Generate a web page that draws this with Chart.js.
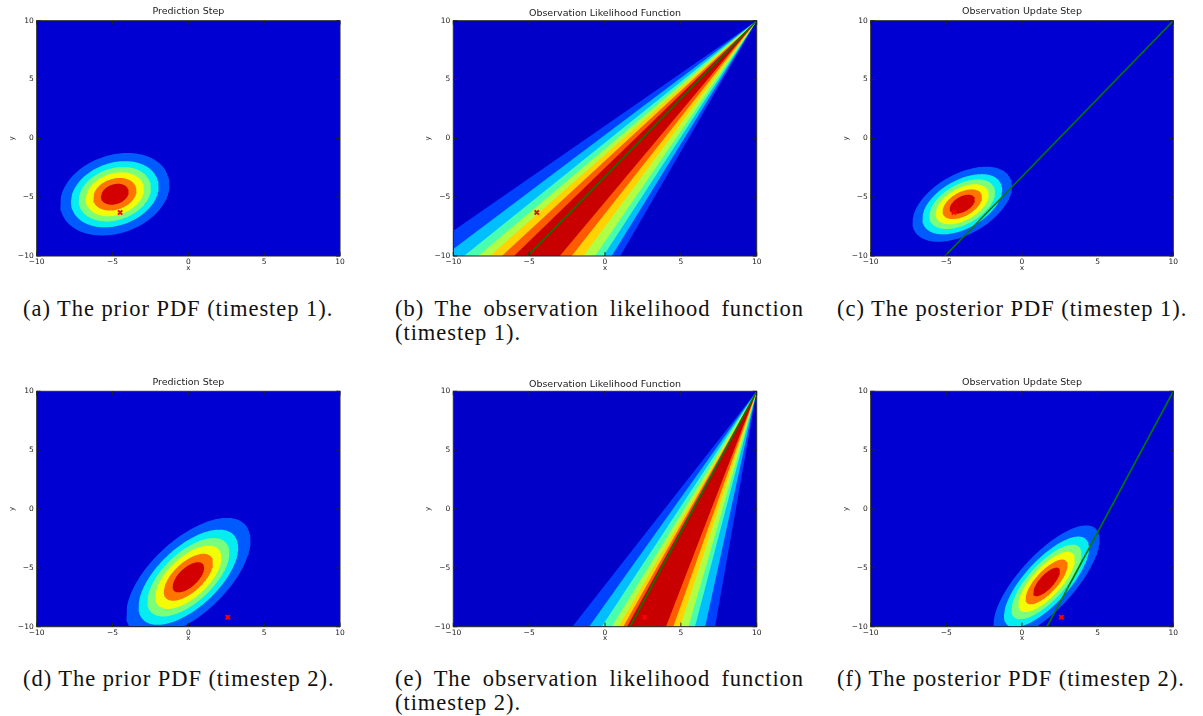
<!DOCTYPE html>
<html>
<head>
<meta charset="utf-8">
<script src="https://cdn.jsdelivr.net/npm/chart.js@4.4.0/dist/chart.umd.min.js"></script>
<style>
  body { margin: 0; background: #fff; width: 1203px; height: 716px; position: relative; overflow: hidden; }
  canvas { position: absolute; }
  .cap { position: absolute; font-family: "Liberation Serif", serif; font-size: 22.5px; line-height: 24px;
         color: #111; white-space: nowrap; letter-spacing: 0.95px; }
  .cap.just { white-space: normal; text-align: justify; text-align-last: left; }
</style>
</head>
<body>
<canvas id="pa" width="372" height="275" style="left:0px;top:0px"></canvas>
<canvas id="pb" width="372" height="275" style="left:410px;top:0px"></canvas>
<canvas id="pc" width="372" height="275" style="left:830px;top:0px"></canvas>
<canvas id="pd" width="372" height="275" style="left:0px;top:370px"></canvas>
<canvas id="pe" width="372" height="275" style="left:410px;top:370px"></canvas>
<canvas id="pf" width="372" height="275" style="left:830px;top:370px"></canvas>

<div class="cap" style="left:23px;top:297px">(a) The prior PDF (timestep 1).</div>
<div class="cap just" style="left:395px;top:297px;width:409px">(b) The observation likelihood function (timestep 1).</div>
<div class="cap" style="left:837px;top:297px">(c) The posterior PDF (timestep 1).</div>
<div class="cap" style="left:23px;top:667px">(d) The prior PDF (timestep 2).</div>
<div class="cap just" style="left:395px;top:667px;width:409px">(e) The observation likelihood function (timestep 2).</div>
<div class="cap" style="left:837px;top:667px">(f) The posterior PDF (timestep 2).</div>

<script>
// axes
const axisMin = -10;
const axisMax = 10;
const tickValues = [-10, -5, 0, 5, 10];

// jet colours of the filled contour bands, lowest level first
const pdfColors = ['#0000d2', '#005bff', '#06edf1', '#7bff7b', '#f1fc06', '#ff7500', '#d20000'];
const likeColors = ['#0000c8', '#0040ff', '#00bfff', '#47ffaf', '#afff47', '#ffd200', '#ff5c00', '#c80000'];

// contour radii of the pdf bands (in standard deviations), outermost first
const pdfRadii = [1.97, 1.58, 1.30, 1.05, 0.78, 0.50];

// gaussian pdfs: mean x, mean y, sd x, sd y, correlation
const prior1 = [-4.85, -4.75, 1.83, 1.78, 0.23];
const posterior1 = [-3.95, -5.6, 1.67, 1.62, 0.48];
const prior2 = [0.0, -5.8, 2.08, 2.56, 0.62];
const posterior2 = [1.62, -6.2, 1.78, 2.44, 0.75];

// likelihood bands fan out from the sensor; edges given where they cross y = -10
const sensor = [10, 10];
const likeLeft1 = [-12.4, -10.6, -9.3, -8.37, -7.6, -6.8, -6.0];
const likeRight1 = [1.0, 0.44, -0.11, -0.66, -1.43, -2.2, -2.98];
const likeLeft2 = [-2.15, -1.05, -0.22, 0.44, 0.88, 1.2, 1.45];
const likeRight2 = [7.25, 6.6, 5.93, 5.5, 4.95, 4.5, 4.02];

// measured bearing line from the sensor, x where it reaches y = -10
const bearing1 = -5.1;
const bearing2 = 1.65;

// true position (red cross)
const truth1 = [-4.5, -6.3];
const truth2 = [2.6, -9.2];

const titles = ['Prediction Step', 'Observation Likelihood Function', 'Observation Update Step'];

// panel placement inside each canvas
const cols = [
    { left: 0, areaL: 36.7, areaR: 340 },
    { left: 410, areaL: 453.3, areaR: 756.7 },
    { left: 830, areaL: 870.7, areaR: 1173.3 }
];
const rows = [
    { top: 0, areaT: 20.7, areaB: 256 },
    { top: 370, areaT: 391.3, areaB: 626.7 }
];
const CW = 372, CH = 275, YBOX = 29.2;

function fmt(v) {
    return String(v).replace('-', '\u2212');
}

function ellipse(g, r) {
    const [mx, my, sx, sy, rho] = g;
    const pts = [];
    for (let i = 0; i <= 160; i++) {
        const t = i / 160 * 2 * Math.PI;
        pts.push({
            x: mx + r * sx * Math.cos(t),
            y: my + r * sy * (rho * Math.cos(t) + Math.sqrt(1 - rho * rho) * Math.sin(t))
        });
    }
    return pts;
}

function area(color, data) {
    return { data, backgroundColor: color, borderWidth: 0, pointRadius: 0, fill: 'shape', tension: 0 };
}

function background(color) {
    return area(color, [
        { x: axisMin, y: axisMin }, { x: axisMax, y: axisMin },
        { x: axisMax, y: axisMax }, { x: axisMin, y: axisMax }, { x: axisMin, y: axisMin }
    ]);
}

function bearingLine(xEnd) {
    return {
        data: [{ x: sensor[0], y: sensor[1] }, { x: xEnd, y: axisMin }],
        borderColor: '#007a00', borderWidth: 1.6, pointRadius: 0, fill: false
    };
}

function marker(p) {
    return {
        data: [{ x: p[0], y: p[1] }], showLine: false,
        pointStyle: 'crossRot', pointRadius: 3, borderWidth: 2,
        borderColor: '#ff0000', backgroundColor: '#ff0000', clip: false
    };
}

function pdfSets(g) {
    const sets = [background(pdfColors[0])];
    pdfRadii.forEach((r, i) => sets.push(area(pdfColors[i + 1], ellipse(g, r))));
    return sets;
}

function likeSets(left, right) {
    const sets = [background(likeColors[0])];
    left.forEach((xl, i) => {
        sets.push(area(likeColors[i + 1], [
            { x: sensor[0], y: sensor[1] }, { x: xl, y: axisMin },
            { x: right[i], y: axisMin }, { x: sensor[0], y: sensor[1] }
        ]));
    });
    return sets;
}

const framePlugin = {
    id: 'frame',
    afterDatasetsDraw(chart) {
        const { ctx, chartArea: a, scales } = chart;
        ctx.save();
        ctx.strokeStyle = '#222';
        ctx.lineWidth = 1;
        ctx.strokeRect(a.left, a.top, a.right - a.left, a.bottom - a.top);
        ctx.beginPath();
        tickValues.forEach(v => {
            const px = scales.x.getPixelForValue(v);
            const py = scales.y.getPixelForValue(v);
            ctx.moveTo(px, a.bottom); ctx.lineTo(px, a.bottom - 4);
            ctx.moveTo(px, a.top); ctx.lineTo(px, a.top + 4);
            ctx.moveTo(a.left, py); ctx.lineTo(a.left + 4, py);
            ctx.moveTo(a.right, py); ctx.lineTo(a.right - 4, py);
        });
        ctx.stroke();
        ctx.restore();
    }
};

const tickFont = { family: 'DejaVu Sans', size: 7.5 };
const labelFont = { family: 'DejaVu Sans', size: 7 };

function makeChart(id, col, row, titleCenter, title, datasets) {
    const c = cols[col], r = rows[row];
    const n = datasets.length;
    datasets.forEach((d, i) => { d.type = 'line'; d.order = n - i; });
    const titleTop = titleCenter - 5.7;
    const titleBottom = (r.areaT - r.top) - 11.4 - titleTop;
    new Chart(document.getElementById(id), {
        type: 'line',
        data: { datasets },
        plugins: [framePlugin],
        options: {
            responsive: false,
            animation: false,
            events: [],
            layout: {
                padding: {
                    left: c.areaL - c.left - YBOX,
                    right: c.left + CW - c.areaR,
                    top: 0,
                    bottom: 0
                }
            },
            plugins: {
                legend: { display: false },
                tooltip: { enabled: false },
                title: {
                    display: true, text: title, fullSize: false, color: '#222',
                    font: { family: 'DejaVu Sans', size: 9.5, weight: 'normal' },
                    padding: { top: titleTop, bottom: titleBottom }
                }
            },
            scales: {
                x: {
                    type: 'linear', min: axisMin, max: axisMax,
                    afterBuildTicks: s => { s.ticks = tickValues.map(v => ({ value: v })); },
                    afterFit: s => { s.height = r.top + CH - r.areaB; },
                    grid: { display: false, drawTicks: false }, border: { display: false },
                    ticks: { font: tickFont, color: '#222', padding: 1.5, maxRotation: 0, autoSkip: false, callback: fmt },
                    title: { display: true, text: 'x', font: labelFont, color: '#222', padding: { top: 2.5, bottom: 2.5 } }
                },
                y: {
                    type: 'linear', min: axisMin, max: axisMax,
                    afterBuildTicks: s => { s.ticks = tickValues.map(v => ({ value: v })); },
                    afterFit: s => { s.width = YBOX; },
                    grid: { display: false, drawTicks: false }, border: { display: false },
                    ticks: { font: tickFont, color: '#222', padding: 3, autoSkip: false, callback: fmt },
                    title: { display: true, text: 'y', font: labelFont, color: '#222', padding: 0 }
                }
            }
        }
    });
}

makeChart('pa', 0, 0, 11.7, titles[0],
    [...pdfSets(prior1), marker(truth1)]);
makeChart('pb', 1, 0, 13.5, titles[1],
    [...likeSets(likeLeft1, likeRight1), bearingLine(bearing1), marker(truth1)]);
makeChart('pc', 2, 0, 11.7, titles[2],
    [...pdfSets(posterior1), bearingLine(bearing1), marker(truth1)]);
makeChart('pd', 0, 1, 12.7, titles[0],
    [...pdfSets(prior2), marker(truth2)]);
makeChart('pe', 1, 1, 14.2, titles[1],
    [...likeSets(likeLeft2, likeRight2), bearingLine(bearing2), marker(truth2)]);
makeChart('pf', 2, 1, 12.7, titles[2],
    [...pdfSets(posterior2), bearingLine(bearing2), marker(truth2)]);
</script>
</body>
</html>
